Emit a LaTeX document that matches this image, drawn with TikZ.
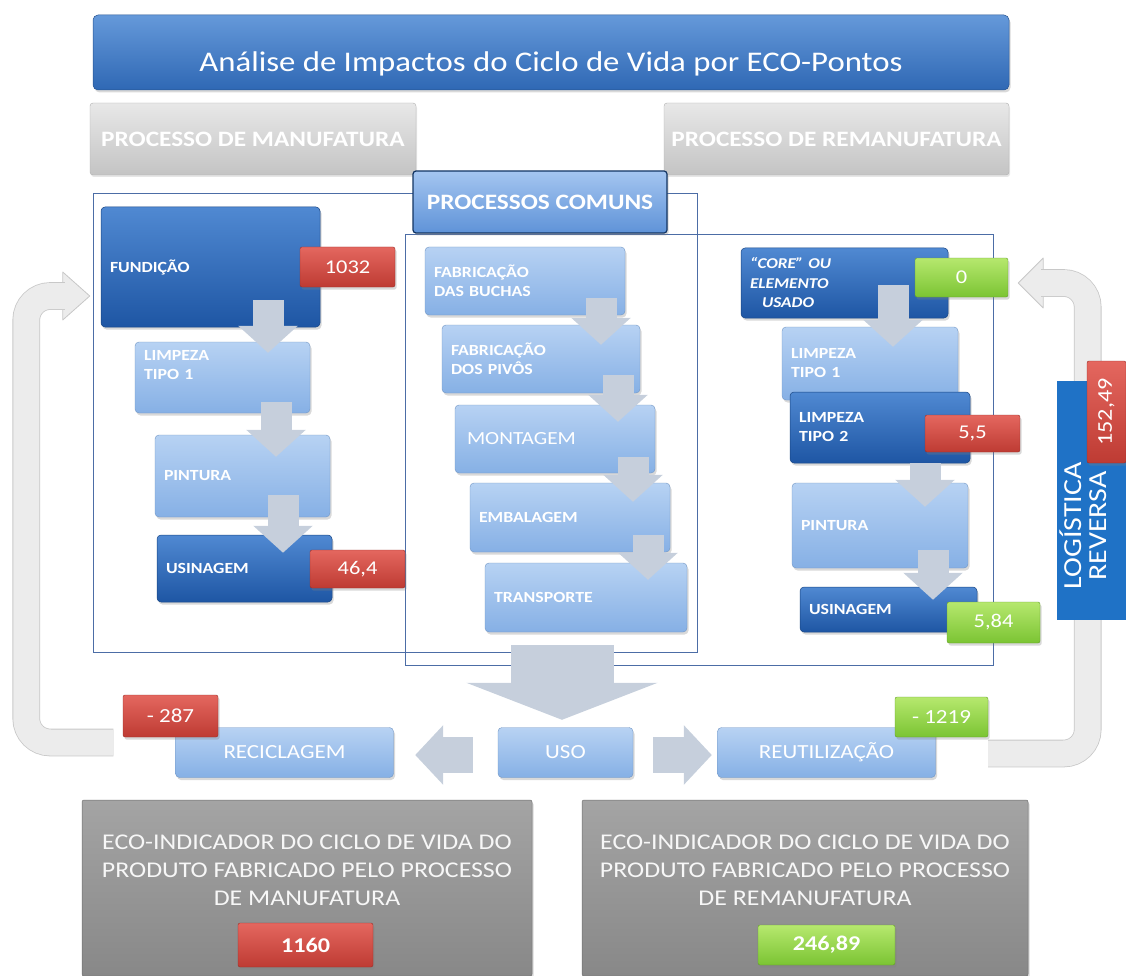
\documentclass[tikz,border=0pt]{standalone}
\usepackage{fontspec}
\setmainfont{Carlito}[FakeStretch=1.15]
\usetikzlibrary{arrows.meta,shadows}

\definecolor{ttlT}{HTML}{6599DA}
\definecolor{ttlB}{HTML}{2F68B4}
\definecolor{dkblueT}{HTML}{5089D2}
\definecolor{dkblueB}{HTML}{1E56A4}
\definecolor{ltblueT}{HTML}{B7D2F3}
\definecolor{ltblueB}{HTML}{86B0E5}
\definecolor{cmnT}{HTML}{A4C5F0}
\definecolor{cmnB}{HTML}{5F93D8}
\definecolor{redT}{HTML}{E4675F}
\definecolor{redB}{HTML}{BE3B33}
\definecolor{grnT}{HTML}{B6E86E}
\definecolor{grnB}{HTML}{7BC433}
\definecolor{gryT}{HTML}{E8E8E8}
\definecolor{gryB}{HTML}{C4C4C4}
\definecolor{ecoT}{HTML}{A4A4A4}
\definecolor{ecoB}{HTML}{888888}
\definecolor{logblue}{HTML}{1F72C6}
\definecolor{frameblue}{HTML}{4C6DA6}
\definecolor{flowgrey}{HTML}{C6CFDC}
\definecolor{loopfill}{HTML}{ECECEC}
\definecolor{loopedge}{HTML}{C8C8C8}

\tikzset{
  softshadow/.style={drop shadow={opacity=.3,shadow xshift=1.5pt,shadow yshift=-2.5pt}},
  basebox/.style={rectangle, rounded corners=4pt, text=white, align=left,
    font=\bfseries\fontsize{15.5}{19}\selectfont, inner xsep=9pt, inner ysep=0pt, softshadow},
  darkbox/.style={basebox, top color=dkblueT, bottom color=dkblueB, draw=dkblueB!80!black, line width=.5pt},
  lightbox/.style={basebox, top color=ltblueT, bottom color=ltblueB, draw=ltblueB!85!black, line width=.4pt},
  boxdim/.style 2 args={text width=#1, minimum height=#2},
  badge/.style 2 args={rectangle, rounded corners=2pt, inner sep=0pt, text=white,
    minimum width=#1, minimum height=#2, font=\fontsize{19.5}{22}\selectfont, softshadow},
  redbadge/.style={top color=redT, bottom color=redB, draw=redB!80!black, line width=.4pt},
  greenbadge/.style={top color=grnT, bottom color=grnB, draw=grnB!80!black, line width=.4pt},
  titlebar/.style={rectangle, rounded corners=5pt, top color=ttlT, bottom color=ttlB,
    draw=ttlB!80!black, line width=.5pt, text=white, font=\fontsize{28.5}{32}\selectfont,
    text height=39pt, text depth=0pt, softshadow},
  greybox/.style={rectangle, rounded corners=3pt, top color=gryT, bottom color=gryB,
    draw=gryB!90!black, line width=.4pt, text=white, font=\bfseries\fontsize{22}{24}\selectfont,
    inner sep=0pt, drop shadow={opacity=.2,shadow xshift=1pt,shadow yshift=-2pt}},
  comunsbox/.style={rectangle, rounded corners=3pt, top color=cmnT, bottom color=cmnB,
    draw=dkblueB!60!black, line width=1.2pt, text=white, font=\bfseries\fontsize{22}{24}\selectfont,
    inner sep=0pt, softshadow},
  usebox/.style={lightbox, align=center, inner sep=0pt, font=\fontsize{20}{22}\selectfont},
  ecobox/.style={rectangle, rounded corners=2pt, top color=ecoT, bottom color=ecoB,
    draw=ecoB!80!black, line width=.5pt, inner sep=0pt, softshadow},
  ecotext/.style={text=white!94!gray, align=center, font=\fontsize{22.5}{28}\selectfont},
  logbox/.style={rectangle, fill=logblue, inner sep=0pt},
  logtext/.style={text=white, align=center, font=\fontsize{26}{25}\selectfont},
  frameline/.style={draw=frameblue, line width=1pt},
  flowarrow/.style={draw=flowgrey, line width=31pt, -{Triangle[length=27pt,width=58pt]}},
  sidearrow/.style={draw=flowgrey, line width=36pt, -{Triangle[length=28pt,width=58pt]}},
  bigarrow/.style={draw=flowgrey, line width=103pt, -{Triangle[length=37pt,width=190pt]}},
  loopshaft/.style={draw=loopedge, line width=.8pt, double=loopfill, double distance=26pt, rounded corners=24pt},
  loophead/.style={fill=loopfill, draw=loopedge, line width=.8pt, line join=round}
}

\begin{document}
\begin{tikzpicture}[x=1pt,y=-1pt]
\useasboundingbox (0,0) rectangle (1126,976);

% group frames
\draw[frameline] (93,194) rectangle (697,652);
\draw[frameline] (405,235) rectangle (993,665);

% headers
\node[titlebar, minimum width=916pt, minimum height=75pt] (title) at (551,52.5) {Análise de Impactos do Ciclo de Vida por ECO-Pontos};
\node[greybox, minimum width=326pt, minimum height=72pt] (procman) at (253,139) {PROCESSO DE MANUFATURA};
\node[greybox, minimum width=345pt, minimum height=72pt] (procreman) at (836.5,139) {PROCESSO DE REMANUFATURA};
\node[comunsbox, minimum width=254pt, minimum height=62pt] (comuns) at (540,202) {PROCESSOS COMUNS};

% manufatura
\node[darkbox, boxdim={201pt}{120pt}] (fund) at (210.5,267) {FUNDIÇÃO};
\node[lightbox, boxdim={157pt}{71pt}, text depth=45pt] (limpA) at (222.5,377.5) {LIMPEZA\\TIPO 1};
\node[lightbox, boxdim={157pt}{82pt}] (pintA) at (242.5,476) {PINTURA};
\node[darkbox, boxdim={157pt}{67pt}] (usinA) at (244.5,568.5) {USINAGEM};

% processos comuns
\node[lightbox, boxdim={182pt}{68pt}] (fab1) at (525,281) {FABRICAÇÃO\\DAS BUCHAS};
\node[lightbox, boxdim={180pt}{68pt}] (fab2) at (541,359) {FABRICAÇÃO\\DOS PIVÔS};
\node[lightbox, boxdim={176pt}{68pt}, inner xsep=12pt, font=\fontsize{18.5}{22}\selectfont] (mont) at (555,439) {MONTAGEM};
\node[lightbox, boxdim={182pt}{69pt}] (emb) at (570,517.5) {EMBALAGEM};
\node[lightbox, boxdim={184pt}{69pt}] (trans) at (586,597.5) {TRANSPORTE};

% remanufatura
\node[darkbox, boxdim={189pt}{70pt}, font=\bfseries\itshape\fontsize{15}{19.5}\selectfont] (core) at (844.5,283) {“CORE” OU\\ELEMENTO\\\hspace*{12pt}USADO};
\node[lightbox, boxdim={158pt}{73pt}] (limpB1) at (870,363.5) {LIMPEZA\\TIPO 1};
\node[darkbox, boxdim={162pt}{71pt}] (limpB2) at (880,427.5) {LIMPEZA\\TIPO 2};
\node[lightbox, boxdim={158pt}{85pt}] (pintB) at (880,525.5) {PINTURA};
\node[darkbox, boxdim={159pt}{45pt}] (usinB) at (888.5,609.5) {USINAGEM};

% flow arrows
\draw[flowarrow] ([xshift=57.5pt,yshift=27pt]fund.south) -- ([xshift=45.5pt,yshift=-11pt]limpA.north);
\draw[flowarrow] ([xshift=53.5pt,yshift=11pt]limpA.south) -- ([xshift=33.5pt,yshift=-22pt]pintA.north);
\draw[flowarrow] ([xshift=40.5pt,yshift=22pt]pintA.south) -- ([xshift=38.5pt,yshift=-18pt]usinA.north);
\draw[flowarrow] ([xshift=76pt,yshift=17pt]fab1.south) -- ([xshift=60pt,yshift=-20pt]fab2.north);
\draw[flowarrow] ([xshift=77pt,yshift=18pt]fab2.south) -- ([xshift=63pt,yshift=-17pt]mont.north);
\draw[flowarrow] ([xshift=78pt,yshift=16pt]mont.south) -- ([xshift=63pt,yshift=-19pt]emb.north);
\draw[flowarrow] ([xshift=78pt,yshift=17pt]emb.south) -- ([xshift=62pt,yshift=-17pt]trans.north);
\draw[flowarrow] ([xshift=48.5pt,yshift=33pt]core.south) -- ([xshift=23pt,yshift=-20pt]limpB1.north);
\draw[flowarrow] ([xshift=45pt]limpB2.south) -- ([xshift=45pt,yshift=-24pt]pintB.north);
\draw[flowarrow] ([xshift=53pt,yshift=18pt]pintB.south) -- ([xshift=44.5pt,yshift=-13pt]usinB.north);

% values
\node[badge={95pt}{40pt}, redbadge] (b1032) at (347.5,267) {1032};
\node[badge={95pt}{38pt}, redbadge] (b464) at (357.5,569) {46,4};
\node[badge={93pt}{39pt}, greenbadge] (b0) at (961.5,277.5) {0};
\node[badge={95pt}{37pt}, redbadge] (b55) at (972.5,433.5) {5,5};
\node[badge={93pt}{41pt}, greenbadge] (b584) at (993.5,622.5) {5,84};

% uso e fim de vida
\node[usebox, minimum width=218pt, minimum height=50pt] (reci) at (284.5,752.5) {RECICLAGEM};
\node[usebox, minimum width=135pt, minimum height=50pt] (uso) at (565.5,752.5) {USO};
\node[usebox, minimum width=218pt, minimum height=50pt] (reut) at (826.5,752.5) {REUTILIZAÇÃO};
\draw[bigarrow] ([xshift=-24pt,yshift=-13pt]trans.south) -- ([xshift=-3.5pt,yshift=7.5pt]uso.north);
\draw[sidearrow] ([xshift=-25pt,yshift=-2.5pt]uso.west) -- ([xshift=21.5pt,yshift=-2.5pt]reci.east);
\draw[sidearrow] ([xshift=20pt,yshift=-2.5pt]uso.east) -- ([xshift=-5.5pt,yshift=-2.5pt]reut.west);
\node[badge={95pt}{42pt}, redbadge, font=\fontsize{20}{22}\selectfont] (bm287) at (170.5,716) {- 287};
\node[badge={93pt}{40pt}, greenbadge, font=\fontsize{20}{22}\selectfont] (bm1219) at (941.5,717) {- 1219};

% return loops
\filldraw[loophead] ([xshift=-38pt,yshift=-5pt]fund.west) -- ([xshift=-11pt,yshift=-29pt]fund.west) -- ([xshift=-38pt,yshift=-53pt]fund.west) -- cycle;
\draw[loopshaft] ([xshift=-62pt,yshift=10pt]reci.west) -| ([xshift=-74.5pt,yshift=-29pt]fund.west) -- ([xshift=-36pt,yshift=-29pt]fund.west);
\filldraw[loophead] ([xshift=35pt,yshift=19.5pt]b0.east) -- ([xshift=10pt,yshift=-5.5pt]b0.east) -- ([xshift=35pt,yshift=-30.5pt]b0.east) -- cycle;
\draw[loopshaft] ([xshift=52.5pt,yshift=-1pt]reut.east) -| ([xshift=79.5pt,yshift=-5.5pt]b0.east) -- ([xshift=33pt,yshift=-5.5pt]b0.east);

% logistica reversa
\node[logbox, minimum width=69pt, minimum height=239pt] (logrev) at (1091.5,500.5) {};
\node[logtext, rotate=90] (logrevtxt) at (1083,526) {LOGÍSTICA\\REVERSA};
\node[badge={102pt}{39pt}, redbadge, rotate=90, font=\fontsize{21}{22}\selectfont] (b15249) at (1106.5,412) {152,49};

% eco-indicadores
\node[ecobox, minimum width=450pt, minimum height=176pt] (ecoman) at (307,888) {};
\node[ecotext] (ecomantxt) at (307,870) {ECO-INDICADOR DO CICLO DE VIDA DO\\PRODUTO FABRICADO PELO PROCESSO\\DE MANUFATURA};
\node[badge={135pt}{44pt}, redbadge, font=\bfseries\fontsize{21}{22}\selectfont] (b1160) at (305.5,945) {1160};
\node[ecobox, minimum width=446pt, minimum height=176pt] (ecoreman) at (805,888) {};
\node[ecotext] (ecoremantxt) at (805,870) {ECO-INDICADOR DO CICLO DE VIDA DO\\PRODUTO FABRICADO PELO PROCESSO\\DE REMANUFATURA};
\node[badge={137pt}{40pt}, greenbadge, font=\bfseries\fontsize{21}{22}\selectfont] (b24689) at (826.5,945) {246,89};
\end{tikzpicture}
\end{document}
